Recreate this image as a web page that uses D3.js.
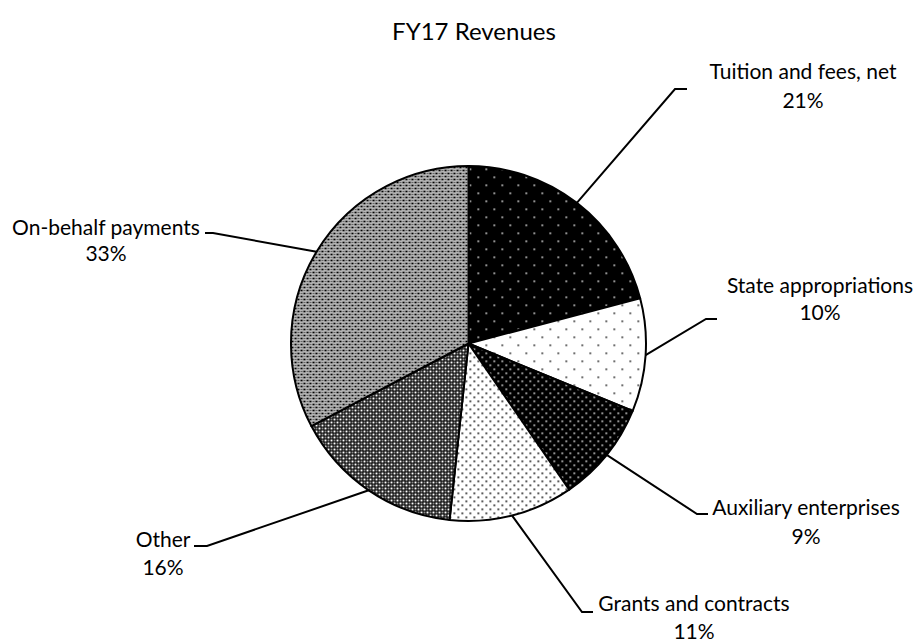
<!DOCTYPE html>
<html><head><meta charset="utf-8">
<script src="https://cdn.jsdelivr.net/npm/d3@7/dist/d3.min.js"></script>
<style>body{margin:0;background:#fff}svg{display:block}text{font-family:Lato,"Open Sans",sans-serif;fill:#000}</style>
</head><body><svg id="c" width="920" height="643"></svg>
<script>
const categories = ["Tuition and fees, net","State appropriations","Auxiliary enterprises","Grants and contracts","Other","On-behalf payments"];
const values = [20.9, 10.3, 9.2, 11.3, 15.6, 32.7];
const pctLabels = ["21%","10%","9%","11%","16%","33%"];
const title = "FY17 Revenues";

// layout for labels: text centre x, first line y, second line y, bend point, end point
const labelLayout = [
  {cx:803, y1:72,  y2:101, bend:[675,89],  end:[687,89]},
  {cx:820, y1:286, y2:313, bend:[706,319], end:[717,319]},
  {cx:806, y1:508, y2:537, bend:[697,514], end:[708,514]},
  {cx:694, y1:604, y2:632, bend:[582,612], end:[593,612]},
  {cx:163, y1:540, y2:568, bend:[207,546], end:[194,546]},
  {cx:106, y1:228, y2:254, bend:[213,233], end:[205,233]}
];

const svg = d3.select("#c");
const defs = svg.append("defs");
function pat(id, w, h, bg, build){
  const p = defs.append("pattern").attr("id",id).attr("patternUnits","userSpaceOnUse").attr("width",w).attr("height",h);
  p.append("rect").attr("width",w).attr("height",h).attr("fill",bg);
  build(p);
}
function px(p,x,y,w,h,c){p.append("rect").attr("x",x).attr("y",y).attr("width",w).attr("height",h).attr("fill",c);}
// Tuition: black with sparse white dots
pat("p0",16,16,"#000",p=>{ px(p,1,1,1.5,1.5,"#fff"); px(p,9,9,1.5,1.5,"#fff"); });
// State: white with sparse black dots
pat("p1",16,16,"#fff",p=>{ px(p,1,1,1.5,1.5,"#000"); px(p,9,9,1.5,1.5,"#000"); });
// Auxiliary: black with denser white dots
pat("p2",8,8,"#000",p=>{ px(p,1,1,1.5,1.5,"#fff"); px(p,5,5,1.5,1.5,"#fff"); });
// Grants: white with denser black dots
pat("p3",8,8,"#fff",p=>{ px(p,1,1,1.6,1.6,"#000"); px(p,5,5,1.6,1.6,"#000"); });
// Other: dark checker
pat("p4",6,6,"#000",p=>{
  px(p,0,0,2,2,"#fff"); px(p,3,3,2,2,"#fff"); px(p,0,3,2,2,"#888"); px(p,3,0,2,2,"#888");
});
// On-behalf: mid-grey lattice
pat("p5",6,6,"#fff",p=>{
  px(p,0,0,2,2,"#000"); px(p,3,3,2,2,"#000"); px(p,0,3,2,2,"#666"); px(p,3,0,2,2,"#666");
  px(p,2,0,1,6,"#aaa"); px(p,5,0,1,6,"#bbb");
});

const cx = 468.5, cy = 343.5, r = 177.5;
const data = categories.map((c,i)=>({name:c, value:values[i], pct:pctLabels[i], lay:labelLayout[i], i}));
const pie = d3.pie().value(d=>d.value).sort(null);
const arcs = pie(data);
const arc = d3.arc().innerRadius(0).outerRadius(r);

const g = svg.append("g").attr("transform",`translate(${cx},${cy})`);
g.selectAll("path.s").data(arcs).join("path").attr("class","s")
  .attr("d",arc).attr("fill",d=>`url(#p${d.data.i})`)
  .attr("stroke","#000").attr("stroke-width",2).attr("stroke-linejoin","round");

// leader lines
svg.selectAll("path.l").data(arcs).join("path").attr("class","l")
  .attr("d",d=>{
    const a=(d.startAngle+d.endAngle)/2;
    const x0=cx+r*Math.sin(a), y0=cy-r*Math.cos(a);
    const L=d.data.lay;
    return `M${x0},${y0}L${L.bend[0]},${L.bend[1]}L${L.end[0]},${L.end[1]}`;
  })
  .attr("fill","none").attr("stroke","#000").attr("stroke-width",2);

const lab = svg.selectAll("g.lab").data(arcs).join("g").attr("class","lab");
lab.append("text").attr("x",d=>d.data.lay.cx).attr("y",d=>d.data.lay.y1).attr("dy","0.35em")
  .attr("text-anchor","middle").style("font-size","21px").text(d=>d.data.name);
lab.append("text").attr("x",d=>d.data.lay.cx).attr("y",d=>d.data.lay.y2).attr("dy","0.35em")
  .attr("text-anchor","middle").style("font-size","21px").text(d=>d.data.pct);

svg.append("text").attr("x",474).attr("y",32).attr("dy","0.35em").attr("text-anchor","middle")
  .style("font-size","24px").text(title);
</script></body></html>
